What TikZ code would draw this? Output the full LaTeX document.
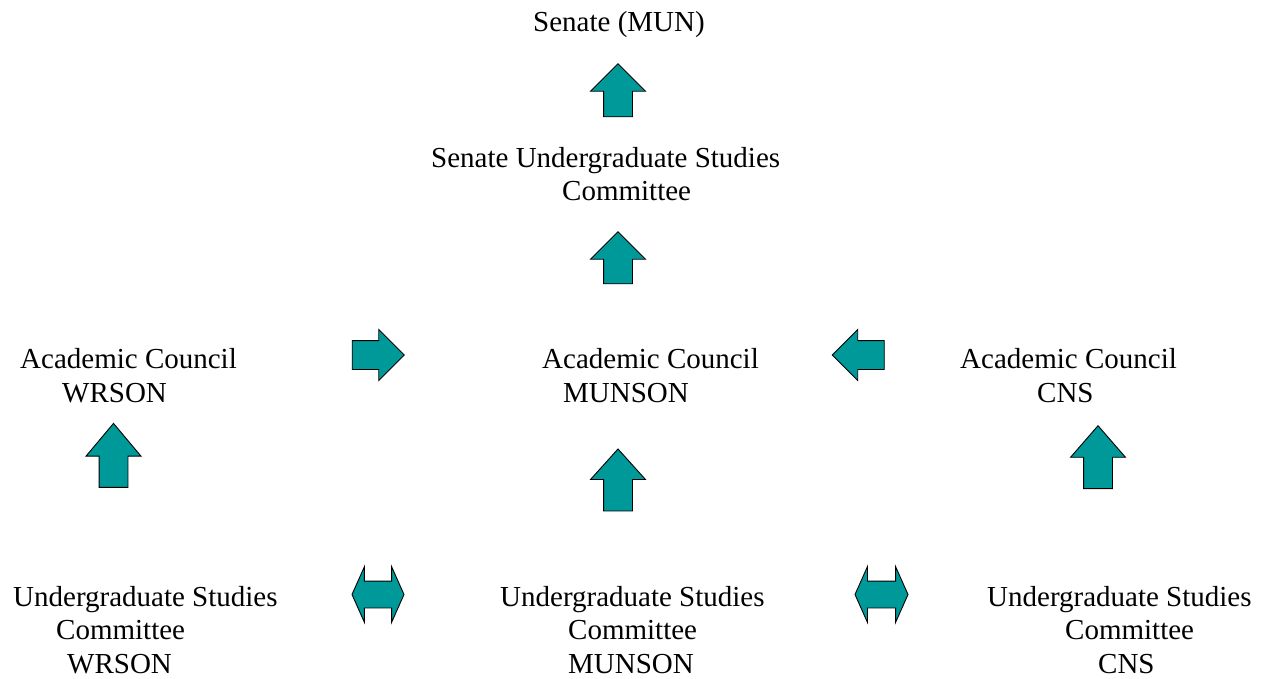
\documentclass[tikz,border=0pt]{standalone}
\usepackage{fontspec}
\setmainfont{Liberation Serif}
\usetikzlibrary{shapes.arrows}
\definecolor{arrowteal}{RGB}{0,153,153}
\tikzset{
  lbl/.style={anchor=base west, inner sep=0pt, align=left,
    font=\fontsize{29}{33.5}\selectfont},
  blk/.style={single arrow, draw=black, line width=0.9pt, fill=arrowteal,
    inner xsep=0pt, inner ysep=14pt, text width=0pt, text height=0pt, text depth=0pt,
    single arrow head extend=13pt, minimum width=54pt, single arrow tip angle=90},
  dblk/.style={double arrow, draw=black, line width=0.9pt, fill=arrowteal,
    inner xsep=0pt, inner ysep=13pt, text width=0pt, text height=0pt, text depth=0pt,
    double arrow head extend=14.5pt, minimum width=55pt, double arrow tip angle=132}
}
\begin{document}
\begin{tikzpicture}[x=1pt,y=-1pt]
\useasboundingbox (0,0) rectangle (1268,679);
% texts (anchored at the baseline of the last line)
\node[lbl] (senate) at (533,32) {Senate (MUN)};
\node[lbl] (sugs) at (431,200.5) {Senate Undergraduate Studies\\\hspace*{131pt}Committee};
\node[lbl] (acw) at (20,402) {Academic Council\\\hspace*{42pt}WRSON};
\node[lbl] (acm) at (542,402) {Academic Council\\\hspace*{21pt}MUNSON};
\node[lbl] (acc) at (960,402) {Academic Council\\\hspace*{77pt}CNS};
\node[lbl] (ugw) at (13,673) {Undergraduate Studies\\\hspace*{43pt}Committee\\\hspace*{54pt}WRSON};
\node[lbl] (ugm) at (500,673) {Undergraduate Studies\\\hspace*{68pt}Committee\\\hspace*{68pt}MUNSON};
\node[lbl] (ugc) at (987,673) {Undergraduate Studies\\\hspace*{78pt}Committee\\\hspace*{111pt}CNS};
% block arrows
\node[blk, minimum height=53pt, rotate=90] (up1) at (618,97.5) {};
\node[blk, minimum height=52pt, rotate=90] (up2) at (618,265) {};
\node[blk, minimum height=64pt, rotate=90, single arrow tip angle=80] (upw) at (113.5,464) {};
\node[blk, minimum height=62pt, rotate=90, single arrow tip angle=84] (upm) at (618,488) {};
\node[blk, minimum height=63pt, rotate=90, single arrow tip angle=82] (upc) at (1098,465.5) {};
\node[blk, minimum height=52pt, minimum width=50pt, single arrow head extend=11pt] (rw) at (371,355) {};
\node[blk, minimum height=52pt, minimum width=50pt, single arrow head extend=11pt, rotate=180] (lc) at (865.5,355) {};
\node[dblk, minimum height=52pt] (d1) at (378,594.5) {};
\node[dblk, minimum height=53pt] (d2) at (881.5,594.5) {};
\end{tikzpicture}
\end{document}
